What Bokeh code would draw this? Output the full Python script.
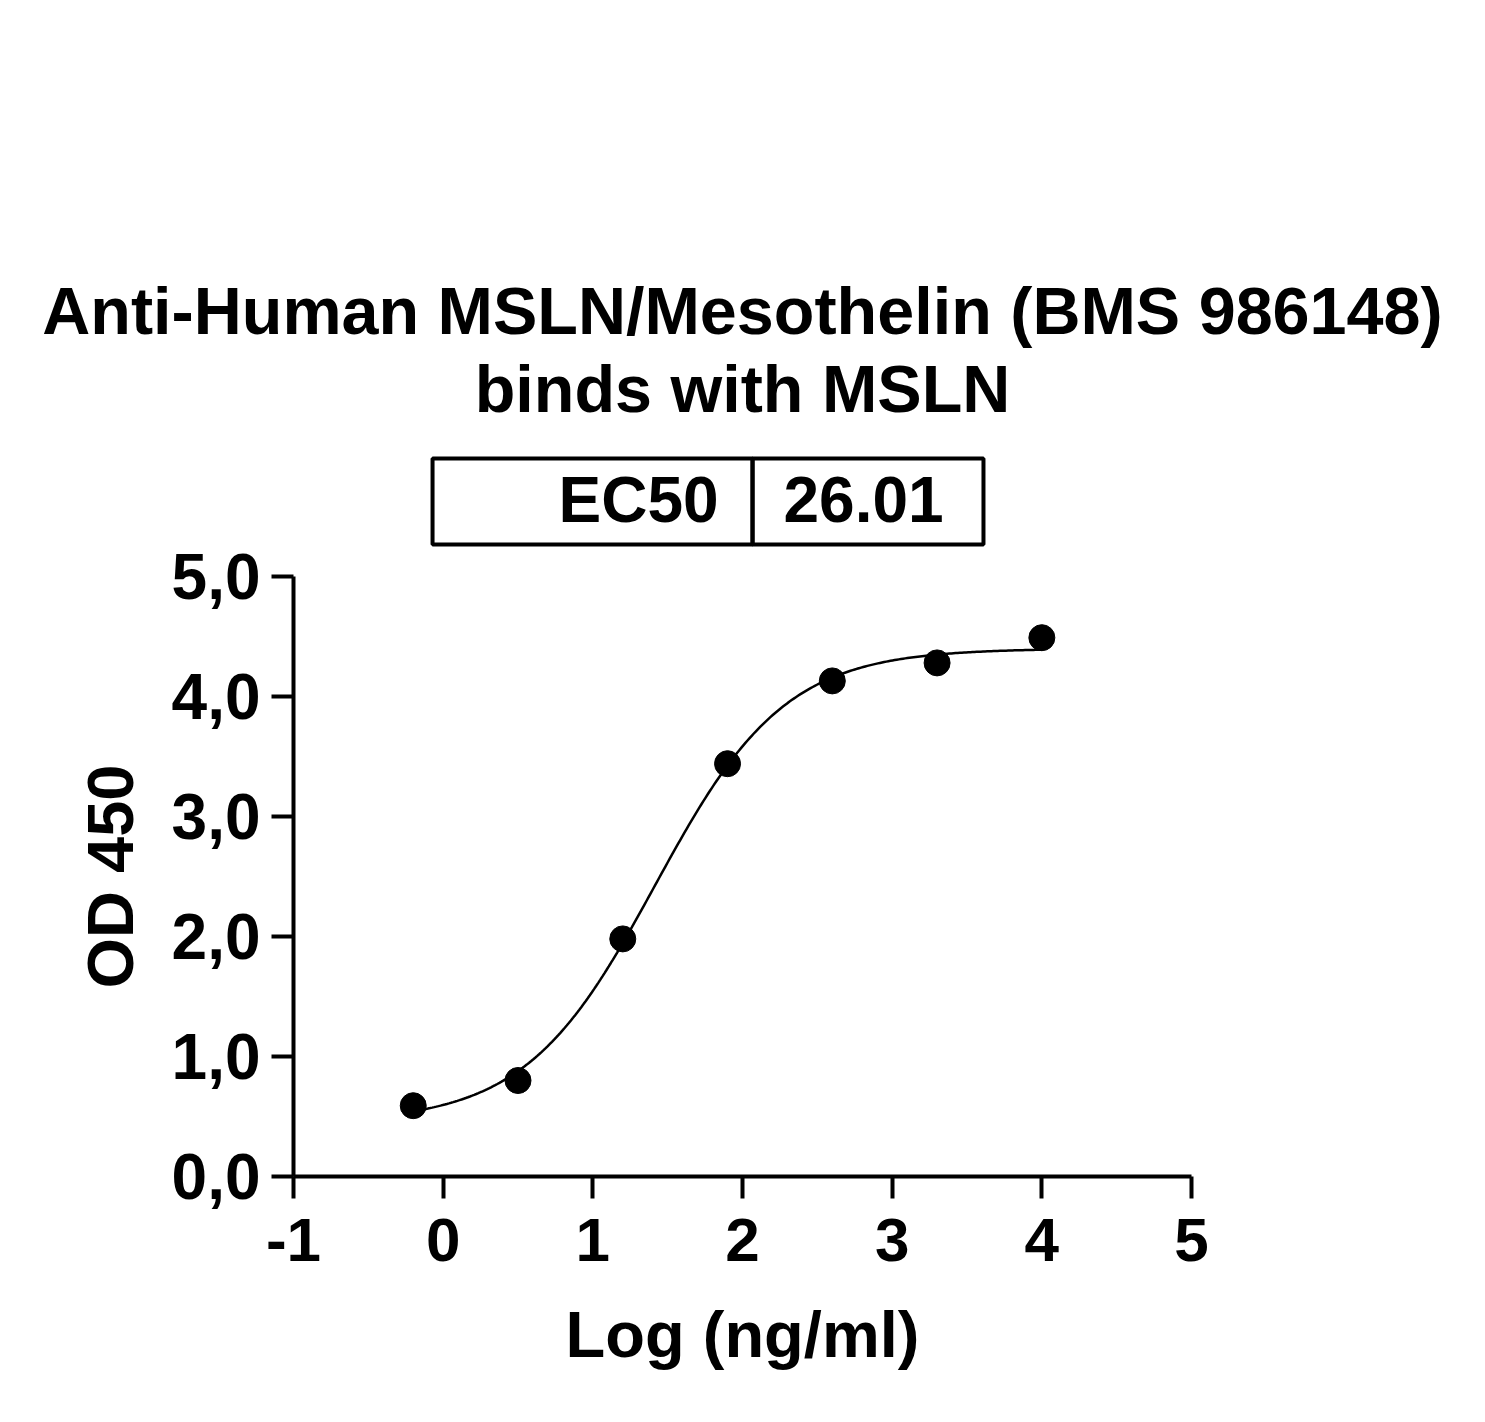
import numpy as np
from bokeh.plotting import figure
from bokeh.models import Range1d, FixedTicker, LinearAxis
from bokeh.core.properties import value
from bokeh.embed import file_html
from bokeh.resources import INLINE

# ---- data ----
log_conc = [-0.2, 0.5, 1.2, 1.9, 2.6, 3.3, 4.0]
od450 = [0.59, 0.80, 1.98, 3.44, 4.13, 4.28, 4.49]

# 4PL fit parameters (EC50 = 26.01 ng/ml)
fit_bottom = 0.45
fit_top = 4.40
fit_ec50 = 26.01
fit_hill = 1.0

x_ticks = [-1, 0, 1, 2, 3, 4, 5]
x_tick_labels = ["-1", "0", "1", "2", "3", "4", "5"]
y_ticks = [0, 1, 2, 3, 4, 5]
y_tick_labels = ["0,0", "1,0", "2,0", "3,0", "4,0", "5,0"]

title_lines = ["Anti-Human MSLN/Mesothelin (BMS 986148)", "binds with MSLN"]
ec50_label = "EC50"
ec50_value = "26.01"

FONT = "Liberation Sans"
W, H = 1480, 1420
PX_X = 149.67   # pixels per x unit
PX_Y = 120.0    # pixels per y unit
X0_PX, Y0_PX = 293, 1176   # page position of the axes' origin (-1, 0)

x_range = Range1d(-1 - X0_PX / PX_X, -1 + (W - X0_PX) / PX_X)
y_range = Range1d((Y0_PX - H) / PX_Y, Y0_PX / PX_Y)

p = figure(width=W, height=H, x_range=x_range, y_range=y_range,
           x_axis_type=None, y_axis_type=None, toolbar_location=None,
           output_backend="svg", min_border=0, outline_line_color=None)
p.grid.visible = False

xaxis = LinearAxis(fixed_location=0, bounds=(-1, 5), ticker=FixedTicker(ticks=x_ticks),
                   major_label_overrides={t: l for t, l in zip(x_ticks, x_tick_labels)})
yaxis = LinearAxis(fixed_location=-1, bounds=(0, 5), ticker=FixedTicker(ticks=y_ticks),
                   major_label_overrides={t: l for t, l in zip(y_ticks, y_tick_labels)})
p.add_layout(xaxis, "below")
p.add_layout(yaxis, "left")

for ax in (xaxis, yaxis):
    ax.axis_line_width = 4
    ax.major_tick_line_width = 4
    ax.major_tick_out = 22
    ax.major_tick_in = 0
    ax.minor_tick_out = 0
    ax.minor_tick_in = 0
    ax.major_label_text_font = FONT
    ax.major_label_text_font_style = "bold"
    ax.axis_label_text_font = FONT
    ax.axis_label_text_font_style = "bold"
    ax.major_label_text_color = "black"
    ax.axis_label_text_color = "black"

xaxis.major_label_text_font_size = "62px"
yaxis.major_label_text_font_size = "64px"
xaxis.major_label_standoff = 20
yaxis.major_label_standoff = 11
xaxis.axis_label = "Log (ng/ml)"
yaxis.axis_label = "OD 450"
xaxis.axis_label_text_font_size = "65px"
yaxis.axis_label_text_font_size = "65px"
xaxis.axis_label_standoff = 34
yaxis.axis_label_standoff = 22

# fitted curve and data points
xf = np.linspace(min(log_conc), max(log_conc), 300)
yf = fit_bottom + (fit_top - fit_bottom) / (1 + 10 ** ((np.log10(fit_ec50) - xf) * fit_hill))
p.line(xf, yf, line_color="black", line_width=2.5)
p.scatter(log_conc, od450, size=26, fill_color="black", line_color="black")

# title (two lines)
p.text(x=[2.0, 2.0], y=[7.215, 6.565], text=title_lines, text_font=value(FONT),
       text_font_style="bold", text_font_size="66.5px", text_align="center",
       text_baseline="alphabetic", text_color="black")

# EC50 table
p.quad(left=[-0.071, 2.067], right=[2.067, 3.61], bottom=[5.267, 5.267], top=[5.983, 5.983],
       fill_color=None, line_color="black", line_width=4)
p.text(x=[1.84], y=[5.64], text=[ec50_label], text_font=value(FONT),
       text_font_style="bold", text_font_size="64px", text_align="right",
       text_baseline="alphabetic", text_color="black")
p.text(x=[2.274], y=[5.64], text=[ec50_value], text_font=value(FONT),
       text_font_style="bold", text_font_size="64px", text_align="left",
       text_baseline="alphabetic", text_color="black")

open("out.html", "w").write(file_html(p, INLINE))
